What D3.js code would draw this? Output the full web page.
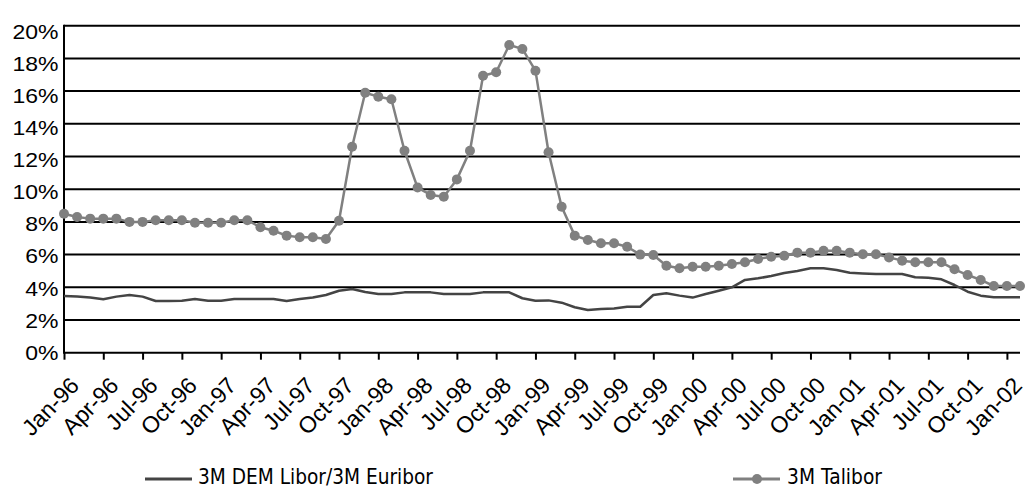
<!DOCTYPE html>
<html><head><meta charset="utf-8">
<script src="https://cdn.jsdelivr.net/npm/d3@7/dist/d3.min.js"></script>
<style>body{margin:0;background:#fff}svg{display:block}</style>
</head><body><svg id="c" width="1026" height="489"></svg>
<script>
const months = ["Jan-96","Feb-96","Mar-96","Apr-96","May-96","Jun-96","Jul-96","Aug-96","Sep-96","Oct-96","Nov-96","Dec-96",
"Jan-97","Feb-97","Mar-97","Apr-97","May-97","Jun-97","Jul-97","Aug-97","Sep-97","Oct-97","Nov-97","Dec-97",
"Jan-98","Feb-98","Mar-98","Apr-98","May-98","Jun-98","Jul-98","Aug-98","Sep-98","Oct-98","Nov-98","Dec-98",
"Jan-99","Feb-99","Mar-99","Apr-99","May-99","Jun-99","Jul-99","Aug-99","Sep-99","Oct-99","Nov-99","Dec-99",
"Jan-00","Feb-00","Mar-00","Apr-00","May-00","Jun-00","Jul-00","Aug-00","Sep-00","Oct-00","Nov-00","Dec-00",
"Jan-01","Feb-01","Mar-01","Apr-01","May-01","Jun-01","Jul-01","Aug-01","Sep-01","Oct-01","Nov-01","Dec-01",
"Jan-02","Feb-02"];
const tickLabels = ["Jan-96","Apr-96","Jul-96","Oct-96","Jan-97","Apr-97","Jul-97","Oct-97","Jan-98","Apr-98","Jul-98","Oct-98",
"Jan-99","Apr-99","Jul-99","Oct-99","Jan-00","Apr-00","Jul-00","Oct-00","Jan-01","Apr-01","Jul-01","Oct-01","Jan-02"];
const talibor = [8.5,8.3,8.2,8.2,8.2,8.0,8.0,8.1,8.1,8.1,7.95,7.95,7.95,8.1,8.1,7.67,7.46,7.16,7.06,7.06,
6.95,8.07,12.6,15.9,15.66,15.5,12.35,10.1,9.65,9.54,10.6,12.35,16.94,17.15,18.82,18.58,17.25,12.26,8.93,7.16,
6.89,6.69,6.69,6.48,6.0,5.98,5.32,5.16,5.26,5.26,5.32,5.43,5.53,5.73,5.87,5.93,6.12,6.12,6.24,6.24,
6.12,6.02,6.02,5.83,5.63,5.53,5.53,5.53,5.1,4.75,4.45,4.08,4.08,4.08];
const euribor = [3.47,3.43,3.37,3.27,3.43,3.53,3.43,3.16,3.16,3.18,3.28,3.18,3.18,3.28,3.28,3.28,3.28,3.16,3.28,3.37,
3.53,3.79,3.9,3.71,3.59,3.59,3.69,3.69,3.69,3.59,3.59,3.59,3.69,3.69,3.69,3.33,3.18,3.2,3.06,2.78,
2.61,2.67,2.71,2.81,2.81,3.53,3.63,3.49,3.37,3.59,3.79,4.0,4.45,4.55,4.69,4.87,5.0,5.16,5.16,5.06,
4.89,4.85,4.81,4.81,4.81,4.61,4.59,4.49,4.14,3.73,3.49,3.39,3.39,3.39];
const yTicks = [0,2,4,6,8,10,12,14,16,18,20];
const seriesNames = ["3M DEM Libor/3M Euribor","3M Talibor"];

const svg = d3.select("#c");
const L = 64, R = 1020, T = 25.7, B = 352.7;
const x = d3.scaleLinear().domain([0, months.length - 1]).range([L, R]);
const y = d3.scaleLinear().domain([0, 20]).range([B, T]);
const yLab = d3.scaleLinear().domain([0, 20]).range([352.5, 31.5]);
const sansA = "'Liberation Sans', Arial, Helvetica, sans-serif";

// gridlines
svg.append("g").selectAll("line").data(yTicks.filter(d => d > 0)).join("line")
  .attr("x1", L).attr("x2", R).attr("y1", d => y(d)).attr("y2", d => y(d))
  .attr("stroke", "#000").attr("stroke-width", 2);

// y labels
svg.append("g").selectAll("text").data(yTicks).join("text")
  .attr("transform", d => `translate(58.5,${yLab(d)}) scale(1.15,1)`)
  .attr("text-anchor", "end").attr("dy", "0.36em")
  .style("font-family", sansA).style("font-size", "20px")
  .attr("fill", "#000").text(d => d + "%");

// x axis
const tickIdx = tickLabels.map(t => months.indexOf(t));
const xAxis = d3.axisBottom(x).tickValues(tickIdx).tickSize(7).tickFormat(d => months[d]);
const gx = svg.append("g").attr("transform", `translate(0,${B})`).call(xAxis);
gx.attr("font-size", null).attr("font-family", null);
gx.select(".domain").attr("stroke", "#000").attr("stroke-width", 2).attr("d", `M${L},0H${R}`);
gx.selectAll(".tick line").attr("stroke", "#000").attr("stroke-width", 2);
gx.selectAll(".tick text")
  .style("font-family", sansA).style("font-size", "23px")
  .attr("fill", "#000").attr("text-anchor", "end")
  .attr("y", 0).attr("dy", 0)
  .attr("transform", "translate(16,34) rotate(-46)");

// y axis line
svg.append("line").attr("x1", L).attr("x2", L).attr("y1", T - 1).attr("y2", B + 1)
  .attr("stroke", "#000").attr("stroke-width", 2);

// euribor line
svg.append("path").datum(euribor)
  .attr("fill", "none").attr("stroke", "#444").attr("stroke-width", 2.5).attr("stroke-linejoin", "round")
  .attr("d", d3.line().x((d, i) => x(i)).y(d => y(d)));

// talibor line + markers
svg.append("path").datum(talibor)
  .attr("fill", "none").attr("stroke", "#808080").attr("stroke-width", 2.5).attr("stroke-linejoin", "round")
  .attr("d", d3.line().x((d, i) => x(i)).y(d => y(d)));
svg.append("g").selectAll("circle").data(talibor).join("circle")
  .attr("cx", (d, i) => x(i)).attr("cy", d => y(d)).attr("r", 5).attr("fill", "#808080");

// legend
const lg = svg.append("g").style("font-family", "'DejaVu Sans', Verdana, sans-serif").style("font-size", "21px").attr("fill", "#000");
lg.append("line").attr("x1", 145).attr("x2", 192).attr("y1", 479).attr("y2", 479).attr("stroke", "#444").attr("stroke-width", 3);
lg.append("text").attr("x", 198).attr("y", 484).attr("textLength", 235).attr("lengthAdjust", "spacingAndGlyphs").text(seriesNames[0]);
lg.append("line").attr("x1", 733).attr("x2", 780).attr("y1", 479).attr("y2", 479).attr("stroke", "#808080").attr("stroke-width", 3);
lg.append("circle").attr("cx", 757).attr("cy", 479).attr("r", 5).attr("fill", "#808080");
lg.append("text").attr("x", 787).attr("y", 484).attr("textLength", 95).attr("lengthAdjust", "spacingAndGlyphs").text(seriesNames[1]);
</script></body></html>
